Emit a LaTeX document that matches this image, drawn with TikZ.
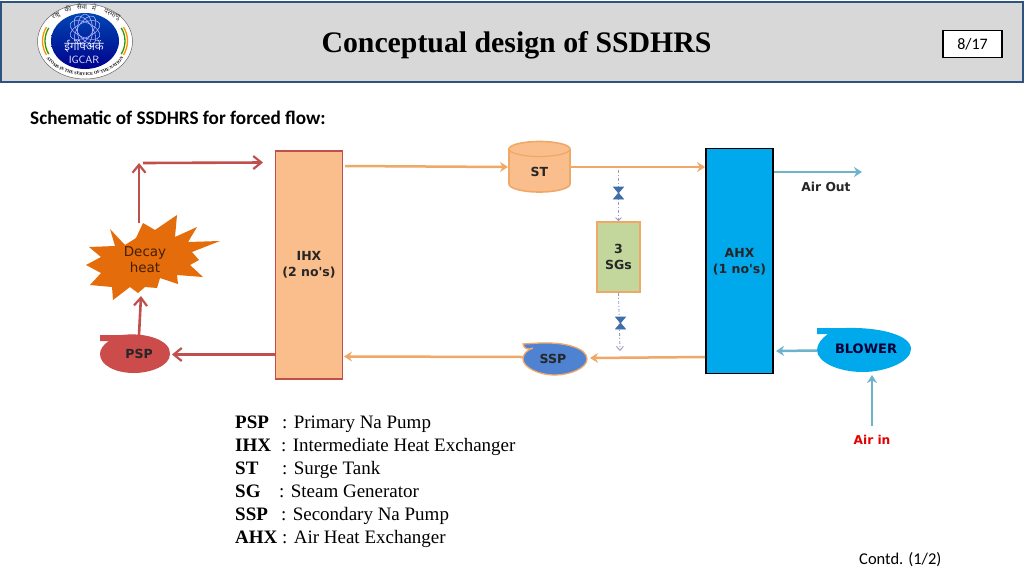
\documentclass[tikz,border=0pt]{standalone}
\usepackage{fontspec}
\setmainfont{Liberation Serif}
\newfontfamily\cali{Carlito}
\newfontfamily\verd{DejaVu Sans}
\newfontfamily\deva[Script=Devanagari]{Noto Sans}
\usetikzlibrary{arrows.meta,decorations.text}
\definecolor{hdr}{HTML}{D8D8D8}
\definecolor{hdrline}{HTML}{2F5380}
\definecolor{redl}{HTML}{C0504D}
\definecolor{orl}{HTML}{F0A868}
\definecolor{peach}{HTML}{F9BE8C}
\definecolor{orf}{HTML}{E46C0A}
\definecolor{sgf}{HTML}{C3D69B}
\definecolor{sspf}{HTML}{4F83D2}
\definecolor{ahxf}{HTML}{00A8EC}
\definecolor{airl}{HTML}{6FB2CC}
\definecolor{valve}{HTML}{3F6EA8}
\definecolor{dashl}{HTML}{9A9AC0}
\definecolor{pspf}{HTML}{CC4B4B}
\tikzset{
 x=1pt,y=-1pt,
 lbl/.style={font=\verd\bfseries\fontsize{12.5}{16}\selectfont,align=center,text=black!85,inner sep=0pt},
 redar/.style={draw=redl,line width=2.6pt,-{Straight Barb[length=8pt,width=13pt,line width=2.2pt]}},
 orar/.style={draw=orl,line width=2.5pt,-{Stealth[length=8pt,width=10pt]}},
 airar/.style={draw=airl,line width=2.5pt,-{Stealth[length=8pt,width=10pt]}},
 dashln/.style={draw=dashl,line width=.9pt,dash pattern=on 3pt off 2pt on 1pt off 2pt},
 valvest/.style={fill=valve,draw=valve,line width=.6pt},
 legk/.style={anchor=base west,inner sep=0pt,font=\fontsize{19}{19}\selectfont\bfseries},
 legv/.style={anchor=base west,inner sep=0pt,font=\fontsize{19}{19}\selectfont},
 ringw/.style={font=\deva\fontsize{6.8}{6.8}\selectfont,text=black!80,inner sep=0pt,text height=4.5pt,text depth=.5pt},
}
\begin{document}
\begin{tikzpicture}
\useasboundingbox (0,0) rectangle (1024,576);
\fill[white] (0,0) rectangle (1024,576);
% header
\node[draw=hdrline,fill=hdr,line width=2pt,minimum width=1022pt,minimum height=80pt,inner sep=0pt] (header) at (512,41.5) {};
\node[font=\fontsize{29.8}{30}\selectfont\bfseries,inner sep=0pt] (title) at (516.5,45.5) {Conceptual design of SSDHRS};
\node[draw=black,fill=white,line width=1.2pt,minimum width=59pt,minimum height=27pt,inner sep=0pt,font=\cali\fontsize{16}{16}\selectfont] (page) at (972.5,44) {8/17};
% logo
\fill[white,draw=black!60,line width=.5pt] (85,41.5) circle[x radius=47.5,y radius=37.5];
\draw[orange!85!yellow,line width=1.3pt] (85,41) ++(155:42.5 and 33) arc[start angle=155,end angle=205,x radius=42.5,y radius=33];
\draw[green!50!black!80!yellow,line width=1.3pt] (85,41) ++(155:40 and 31) arc[start angle=155,end angle=205,x radius=40,y radius=31];
\draw[orange!85!yellow,line width=1.3pt] (85,41) ++(25:42.5 and 33) arc[start angle=25,end angle=-25,x radius=42.5,y radius=33];
\draw[green!50!black!80!yellow,line width=1.3pt] (85,41) ++(25:40 and 31) arc[start angle=25,end angle=-25,x radius=40,y radius=31];
\begin{scope}
\clip (85,41) circle[x radius=34,y radius=28];
\shade[top color=blue!60!cyan!70!black,middle color=blue!70!cyan!70!black,bottom color=blue!55!black] (50,12) rectangle (120,70);
\foreach \a in {-66,-33,0,33,66}{
 \draw[blue!30!white,line width=.55pt,rotate around={\a:(85,30)}] (85,30) circle[x radius=7.5,y radius=16];
}
\end{scope}
\node[font=\deva\fontsize{11.5}{11.5}\selectfont,text=white!92!blue,inner sep=0pt,text height=5pt,text depth=0pt] (logohi) at (84,47.5) {ईगोंपअकें};
\node[font=\fontsize{10.5}{10.5}\selectfont\sffamily,text=white!92!blue,inner sep=0pt,text height=6.5pt,text depth=0pt] (logoen) at (84,60) {IGCAR};
\path[decorate,decoration={text along path,text align=center,text={|\fontsize{4.3}{4.3}\selectfont\bfseries|ATOMS IN THE SERVICE OF THE NATION}}] (43,52) .. controls (55,83) and (115,83) .. (127,52);
\node[ringw,rotate=32] (r1) at (56,15.5) {राष्ट्र};
\node[ringw,rotate=14] (r2) at (68,10) {की};
\node[ringw,rotate=3] (r3) at (82,7.5) {सेवा};
\node[ringw,rotate=-10] (r4) at (94,8.5) {में};
\node[ringw,rotate=-25] (r5) at (112,14.5) {परमाणु};
% subtitle
\node[anchor=base west,inner sep=0pt,font=\cali\bfseries\fontsize{19.2}{19.2}\selectfont] (sub) at (30,124) {Schematic of SSDHRS for forced flow:};
% boxes
\node[draw=redl,fill=peach,line width=1.6pt,minimum width=67pt,minimum height=228pt,inner sep=0pt] (ihx) at (309,265) {};
\node[lbl] (ihxt) at (309,265) {IHX\\(2 no's)};
\node[draw=black,fill=ahxf,line width=1.8pt,minimum width=67pt,minimum height=225pt,inner sep=0pt] (ahx) at (739.5,261) {};
\node[lbl] (ahxt) at (739.5,261.5) {AHX\\(1 no's)};
\node[draw=orl,fill=sgf,line width=1.6pt,minimum width=43pt,minimum height=70pt,inner sep=0pt,lbl] (sg) at (618.5,257) {3\\SGs};
% ST cylinder
\path[fill=peach,draw=orl,line width=1.6pt] (509,149) -- (509,184) arc[start angle=180,end angle=0,x radius=30.5,y radius=8] -- (570,149) arc[start angle=0,end angle=-180,x radius=30.5,y radius=7.5] -- cycle;
\draw[orl,line width=1.3pt] (509,149) arc[start angle=180,end angle=0,x radius=30.5,y radius=7.5];
\node[lbl] (st) at (539.5,172) {ST};
\coordinate (stl) at (508,167);
\coordinate (str) at (570,167);
% star
\path[fill=orf] (110,229) -- (125,245) -- (136,238) -- (143,223) -- (155,230) -- (177,215) -- (175,237) -- (197,227) -- (188,242) -- (220,241) -- (192,252) -- (199,260) -- (190,265) -- (203,277) -- (177,275) -- (178,284) -- (160,278) -- (157,288) -- (145,287) -- (138,293) -- (130,287) -- (113,300) -- (112,287) -- (90,285) -- (101,273) -- (86,265) -- (101,257) -- (89,247) -- (115,246) -- cycle;
\node[font=\verd\fontsize{13.5}{15.5}\selectfont,align=center,text=black!70!orf,inner sep=0pt] (decay) at (145,259.5) {Decay\\heat};
\coordinate (startop) at (139,223);
\coordinate (starbot) at (141,296);
% pumps
\path[fill=pspf] (100,335) -- (122,335) .. controls (145,332) and (171,340) .. (170,354) .. controls (170,366) and (150,373) .. (134,373) .. controls (115,373) and (100,365) .. (100,354) .. controls (100,349) and (104,344) .. (109,341) -- (100,341) -- cycle;
\node[lbl] (psp) at (139,353.5) {PSP};
\path[fill=sspf,draw=orl,line width=1.3pt] (523,344) -- (540,343) .. controls (565,342) and (587,348) .. (587,359) .. controls (587,368) and (570,375) .. (555,375) .. controls (538,375) and (523,367) .. (523,359) .. controls (523,354) and (527,350) .. (533,348) .. controls (528,350) and (524,349) .. (523,344) -- cycle;
\node[lbl] (ssp) at (553,359) {SSP};
\path[fill=ahxf] (817,328) -- (845,328) .. controls (880,327) and (911,335) .. (911,349) .. controls (911,362) and (885,372) .. (863,372) .. controls (838,372) and (817,362) .. (817,350) .. controls (817,344) and (822,338) .. (828,334) -- (817,334) -- cycle;
\node[lbl,font=\verd\bfseries\fontsize{13}{13}\selectfont,text=black!80!blue] (blower) at (866,349) {BLOWER};
% red arrows
\draw[redar] (ihx.west|-0,354.5) -- (172,354.5);
\draw[redar] (139,335) -- (starbot);
\draw[redar] (startop) -- (139,163);
\draw[redar] (143,163) -- (263,162.5);
% orange arrows
\draw[orar] (345,166) -- (stl);
\draw[orar] (str) -- (ahx.west|-0,167);
\draw[orar] (ahx.west|-0,357) -- (590,358);
\draw[orar] (523,357) -- (344,356.5);
% air
\draw[airar] (ahx.east|-0,172) -- (862,172);
\draw[airar] (817,350.5) -- (776,351);
\draw[airar] (872,426) -- (872,375);
\node[font=\verd\bfseries\fontsize{12.3}{12.3}\selectfont,text=black!85,inner sep=0pt] (airout) at (826,187) {Air Out};
\node[font=\verd\bfseries\fontsize{12.2}{12.2}\selectfont,text=red!90!black,inner sep=0pt] (airin) at (872,440) {Air in};
% SG lines
\coordinate (sgt) at (618.5,170);
\coordinate (sgb) at (620,351);
\draw[dashln,-{Straight Barb[length=3pt,width=6pt]}] (sgt) -- (sg.north);
\draw[dashln,-{Straight Barb[length=4pt,width=7pt]}] (sg.south) -- (sgb);
\path[valvest] (613.5,187) -- (623.5,187) -- (613.5,199) -- (623.5,199) -- cycle;
\path[valvest] (615.5,317) -- (625.5,317) -- (615.5,329) -- (625.5,329) -- cycle;
% legend
\node[legk] at (235,428) {PSP};
\node[legv] at (282,428) {: Primary Na Pump};
\node[legk] at (235,451) {IHX};
\node[legv] at (281,451) {: Intermediate Heat Exchanger};
\node[legk] at (235,474) {ST};
\node[legv] at (282,474) {: Surge Tank};
\node[legk] at (235,497) {SG};
\node[legv] at (279,497) {: Steam Generator};
\node[legk] at (235,520) {SSP};
\node[legv] at (281,520) {: Secondary Na Pump};
\node[legk] at (235,543) {AHX};
\node[legv] at (282,543) {: Air Heat Exchanger};
\node[anchor=base west,inner sep=0pt,font=\cali\fontsize{16.5}{16.5}\selectfont] (contd) at (859,564) {Contd. (1/2)};
\end{tikzpicture}
\end{document}
